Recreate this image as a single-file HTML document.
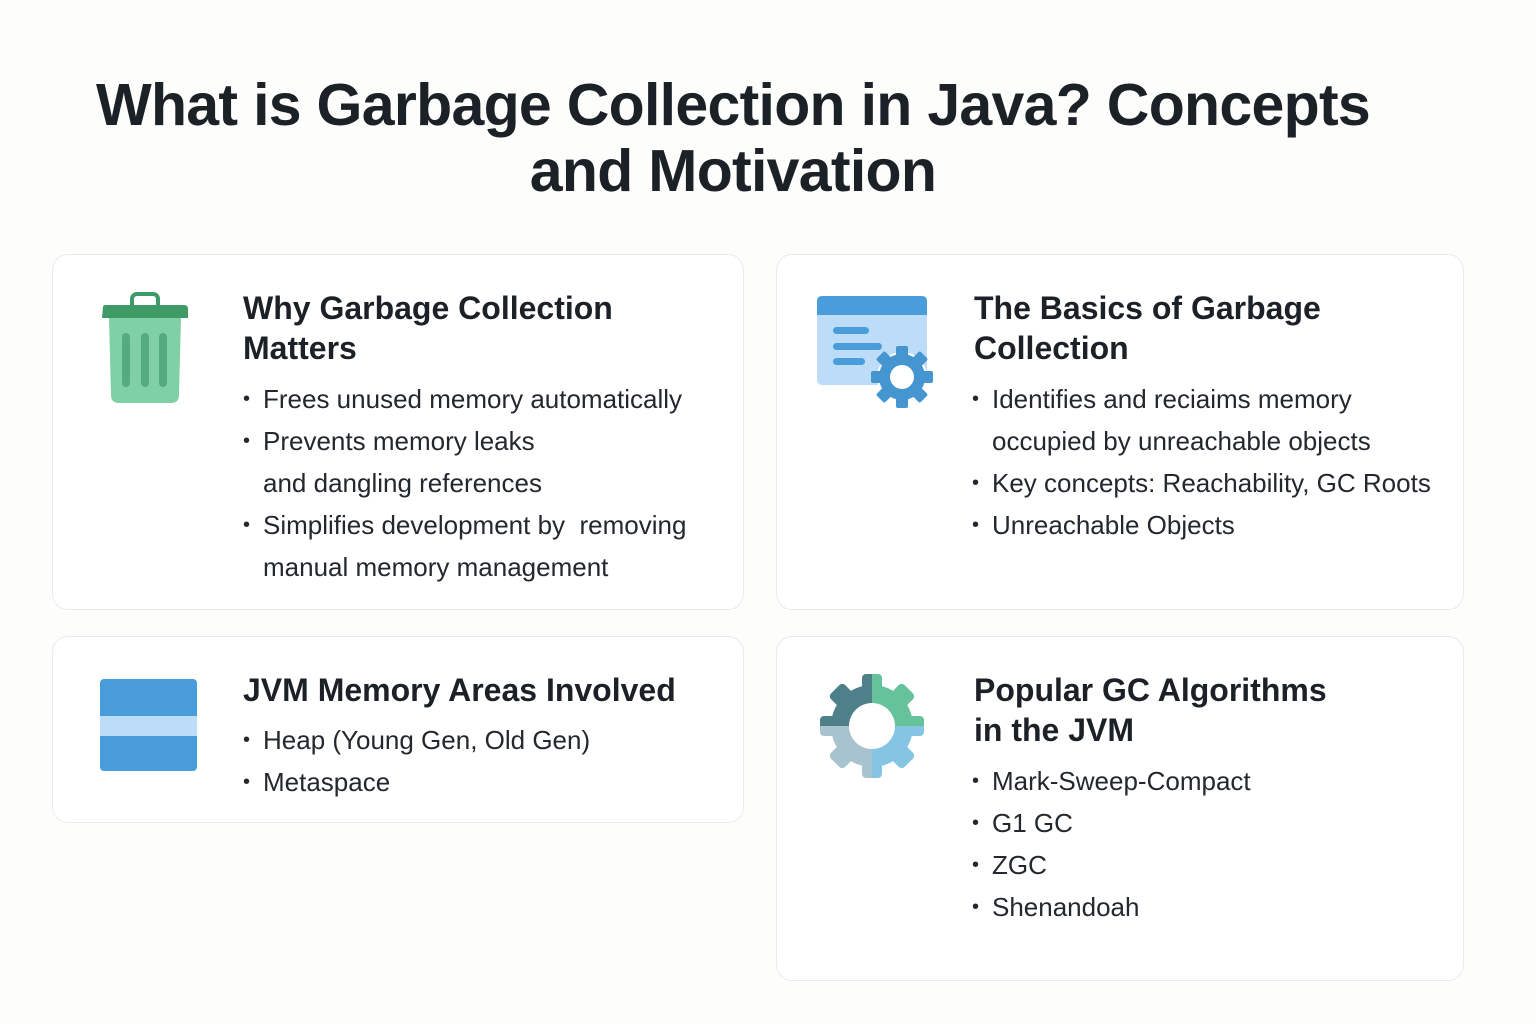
<!DOCTYPE html>
<html><head><meta charset="utf-8"><style>
*{margin:0;padding:0;box-sizing:border-box}
body{width:1536px;height:1024px;background:#fdfdfc;font-family:"Liberation Sans",sans-serif;color:#1c2127;position:relative;overflow:hidden}
h1{position:absolute;left:0;width:1466px;top:72px;text-align:center;font-size:59px;font-weight:bold;line-height:66px;letter-spacing:-0.7px}
.card{position:absolute;background:#fff;border:1.5px solid #ebebea;border-radius:16px}
.h{position:absolute;font-size:32px;font-weight:bold;line-height:40px;color:#1c2127}
.b{position:absolute;font-size:26px;line-height:42px;color:#23282e}
.b div{padding-left:20px;position:relative}
.b div.d::before{content:"•";position:absolute;left:0;font-size:20px}
svg{position:absolute;left:0;top:0}
</style></head><body>
<h1>What is Garbage Collection in Java? Concepts<br>and Motivation</h1>
<div class="card" style="left:52px;top:254px;width:692px;height:356px"></div>
<div class="card" style="left:776px;top:254px;width:688px;height:356px"></div>
<div class="card" style="left:52px;top:636px;width:692px;height:187px"></div>
<div class="card" style="left:776px;top:636px;width:688px;height:345px"></div>

<div class="h" style="left:243px;top:288px">Why Garbage Collection<br>Matters</div>
<div class="b" style="left:243px;top:378px"><div class="d">Frees unused memory automatically</div><div class="d">Prevents memory leaks</div><div>and dangling references</div><div class="d">Simplifies development by &nbsp;removing</div><div>manual memory management</div></div>

<div class="h" style="left:974px;top:288px">The Basics of Garbage<br>Collection</div>
<div class="b" style="left:972px;top:378px"><div class="d">Identifies and reciaims memory</div><div>occupied by unreachable objects</div><div class="d">Key concepts: Reachability, GC Roots</div><div class="d">Unreachable Objects</div></div>

<div class="h" style="left:243px;top:670px">JVM Memory Areas Involved</div>
<div class="b" style="left:243px;top:719px"><div class="d">Heap (Young Gen, Old Gen)</div><div class="d">Metaspace</div></div>

<div class="h" style="left:974px;top:670px">Popular GC Algorithms<br>in the JVM</div>
<div class="b" style="left:972px;top:760px"><div class="d">Mark-Sweep-Compact</div><div class="d">G1 GC</div><div class="d">ZGC</div><div class="d">Shenandoah</div></div>

<svg width="1536" height="1024">
<defs>
<clipPath id="g1"><circle cx="872" cy="726" r="41"/>
<rect x="862" y="674" width="20" height="104" rx="4"/>
<rect x="862" y="674" width="20" height="104" rx="4" transform="rotate(45 872 726)"/>
<rect x="862" y="674" width="20" height="104" rx="4" transform="rotate(90 872 726)"/>
<rect x="862" y="674" width="20" height="104" rx="4" transform="rotate(135 872 726)"/>
</clipPath>
</defs>
<!-- trash -->
<rect x="132" y="294" width="26" height="16" rx="5" fill="none" stroke="#3d9a66" stroke-width="4"/>
<path d="M103 307 Q103 305 106 305 L184 305 Q188 305 188 309 L188 318 L102 318 Z" fill="#3f9a66"/>
<path d="M109 318 L181 318 L179 395 Q179 403 171 403 L119 403 Q111 403 111 395 Z" fill="#7fd0a5"/>
<rect x="122" y="333" width="8" height="54" rx="4" fill="#55ab7f"/>
<rect x="141" y="333" width="8" height="54" rx="4" fill="#55ab7f"/>
<rect x="159" y="333" width="8" height="54" rx="4" fill="#55ab7f"/>
<!-- window -->
<rect x="817" y="296" width="110" height="89" rx="5" fill="#bcdcf8"/>
<path d="M817 301 Q817 296 822 296 L922 296 Q927 296 927 301 L927 315 L817 315 Z" fill="#4a9ddb"/>
<rect x="833" y="327" width="36" height="7" rx="3.5" fill="#4a9ddb"/>
<rect x="833" y="343" width="49" height="7" rx="3.5" fill="#4a9ddb"/>
<rect x="833" y="358" width="32" height="7" rx="3.5" fill="#4a9ddb"/>
<g fill="#4595d0"><circle cx="902" cy="377" r="25" fill="#fff"/>
<rect x="896" y="346" width="12" height="62" rx="2"/><rect x="896" y="346" width="12" height="62" rx="2" transform="rotate(45 902 377)"/><rect x="896" y="346" width="12" height="62" rx="2" transform="rotate(90 902 377)"/><rect x="896" y="346" width="12" height="62" rx="2" transform="rotate(135 902 377)"/>
<circle cx="902" cy="377" r="23"/></g>
<circle cx="902" cy="377" r="12" fill="#fff"/>
<!-- memory -->
<rect x="100" y="679" width="97" height="92" rx="4" fill="#4a9ddb"/>
<rect x="100" y="716" width="97" height="20" fill="#bcdcf8"/>
<!-- multicolor gear -->
<g clip-path="url(#g1)">
<rect x="820" y="674" width="52" height="52" fill="#4d8089"/>
<rect x="872" y="674" width="52" height="52" fill="#66c29a"/>
<rect x="820" y="726" width="52" height="52" fill="#a7c3cd"/>
<rect x="872" y="726" width="52" height="52" fill="#85c4e2"/>
</g>
<circle cx="872" cy="726" r="23" fill="#fff"/>
</svg>
</body></html>
